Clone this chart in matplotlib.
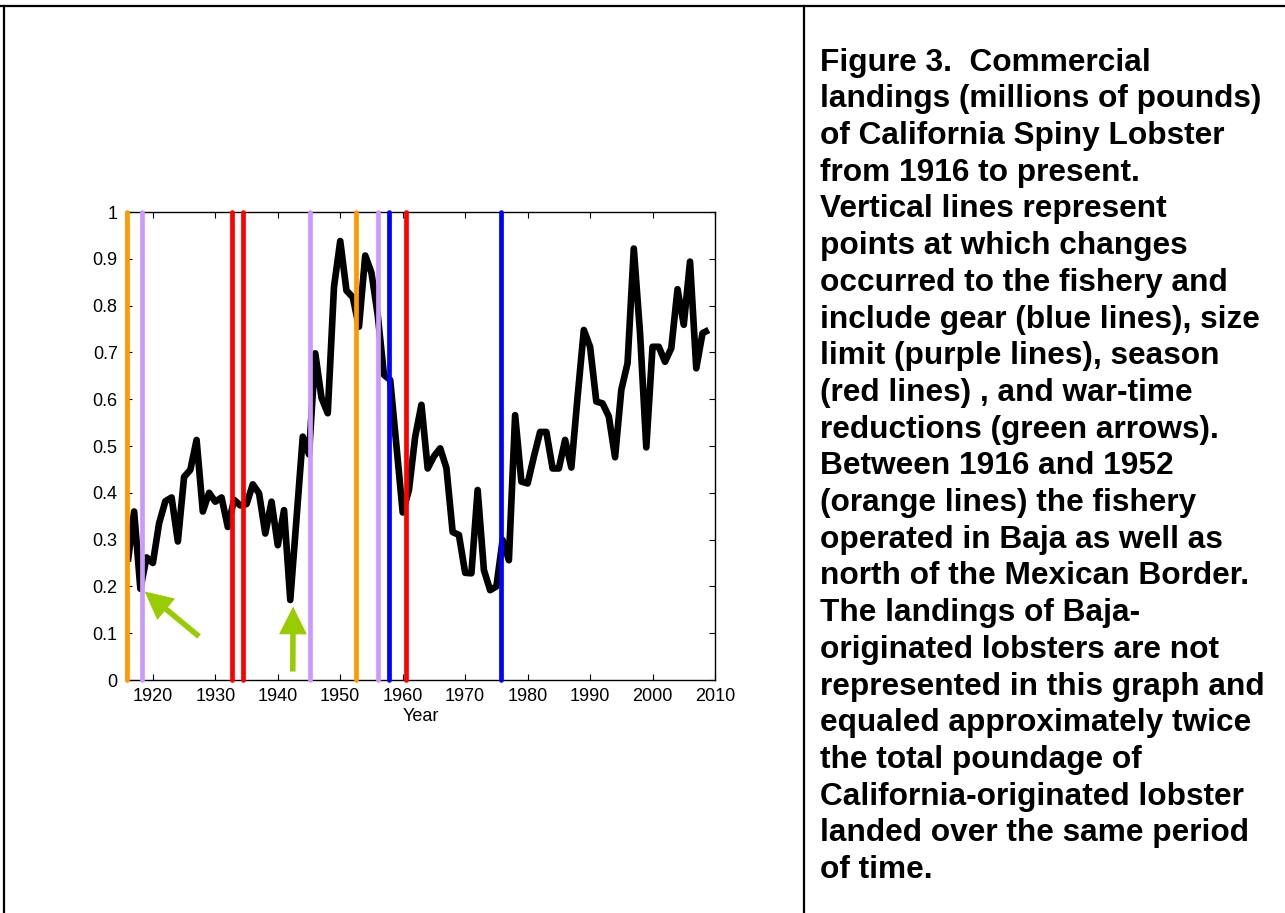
# Commercial landings of California spiny lobster, with fishery change lines.
import matplotlib
matplotlib.use('Agg')
import matplotlib.pyplot as plt
from matplotlib.lines import Line2D

# landings in millions of pounds, one value per season
years = list(range(1916, 2010))
landings = [0.253, 0.36, 0.195, 0.262, 0.25, 0.335, 0.382, 0.39, 0.296, 0.434,
            0.449, 0.513, 0.36, 0.40, 0.381, 0.39, 0.327, 0.385, 0.373, 0.376,
            0.418, 0.399, 0.313, 0.381, 0.288, 0.363, 0.171, 0.345, 0.52, 0.482,
            0.698, 0.603, 0.57, 0.84, 0.938, 0.832, 0.818, 0.755, 0.907, 0.87,
            0.78, 0.652, 0.641, 0.50, 0.358, 0.406, 0.52, 0.588, 0.452, 0.478,
            0.495, 0.453, 0.316, 0.31, 0.229, 0.228, 0.406, 0.235, 0.192, 0.2,
            0.299, 0.256, 0.566, 0.424, 0.42, 0.477, 0.53, 0.53, 0.452, 0.452,
            0.513, 0.454, 0.605, 0.748, 0.712, 0.595, 0.591, 0.563, 0.476, 0.62,
            0.677, 0.922, 0.741, 0.497, 0.712, 0.712, 0.68, 0.709, 0.835, 0.759,
            0.894, 0.666, 0.741, 0.748]

# years at which the fishery changed
gear_years = [1957.8, 1975.7]
size_years = [1918.2, 1945.1, 1956.1]
season_years = [1932.6, 1934.4, 1960.6]
baja_years = [1915.8, 1952.6]

# war-time reductions: (tail, tip) of each arrow
war_arrows = [((1927.4, 0.093), (1918.7, 0.189)),
              ((1942.4, 0.018), (1942.45, 0.157))]

caption = ["Figure 3.  Commercial",
           "landings (millions of pounds)",
           "of California Spiny Lobster",
           "from 1916 to present.",
           "Vertical lines represent",
           "points at which changes",
           "occurred to the fishery and",
           "include gear (blue lines), size",
           "limit (purple lines), season",
           "(red lines) , and war-time",
           "reductions (green arrows).",
           "Between 1916 and 1952",
           "(orange lines) the fishery",
           "operated in Baja as well as",
           "north of the Mexican Border.",
           "The landings of Baja-",
           "originated lobsters are not",
           "represented in this graph and",
           "equaled approximately twice",
           "the total poundage of",
           "California-originated lobster",
           "landed over the same period",
           "of time."]

plt.rcParams['font.family'] = ['Liberation Sans', 'DejaVu Sans']

W, H = 1285, 913
fig = plt.figure(figsize=(W / 100, H / 100), dpi=100)

def fx(px):
    return px / W

def fy(py):
    return 1 - py / H

# table borders
for xs, ys in [([0, W], [6, 6]), ([4, 4], [6, H]), ([804, 804], [6, H])]:
    fig.add_artist(Line2D([fx(x) for x in xs], [fy(y) for y in ys],
                          color='black', lw=1.6, transform=fig.transFigure))

ax = fig.add_axes([fx(126), fy(680), fx(715) - fx(126), fy(212) - fy(680)])

ax.plot(years, landings, color='black', lw=4.8, solid_joinstyle='round',
        solid_capstyle='butt', zorder=2)

line_groups = [(baja_years, '#FF9900'), (size_years, '#CC99FF'),
               (season_years, '#FF0000'), (gear_years, '#0000FF')]
for xs, col in line_groups:
    for x in xs:
        ax.plot([x, x], [0, 1], color=col, lw=3.4, solid_capstyle='round',
                clip_on=False, zorder=3)

for tail, tip in war_arrows:
    ax.annotate('', xy=tip, xytext=tail,
                arrowprops=dict(arrowstyle='simple,head_length=20,head_width=20,tail_width=4',
                                mutation_scale=1, color='#99CC00', lw=0,
                                shrinkA=0, shrinkB=0),
                zorder=4)

ax.set_xlim(1915.7, 2010)
ax.set_ylim(0, 1)
ax.set_xticks(range(1920, 2011, 10))
ax.set_yticks([i / 10 for i in range(11)])
ax.set_yticklabels(['0', '0.1', '0.2', '0.3', '0.4', '0.5', '0.6', '0.7', '0.8', '0.9', '1'])
ax.tick_params(direction='in', length=4, width=0.8, top=True, right=True,
               labelsize=13, pad=6)
for s in ax.spines.values():
    s.set_linewidth(1.0)
ax.set_xlabel('Year', fontsize=13, labelpad=2)

for i, line in enumerate(caption):
    fig.text(fx(820), fy(70.6 + 36.7 * i), line, fontsize=22.8,
             fontweight='bold', va='baseline', ha='left')

fig.savefig('out.png', dpi=100)
